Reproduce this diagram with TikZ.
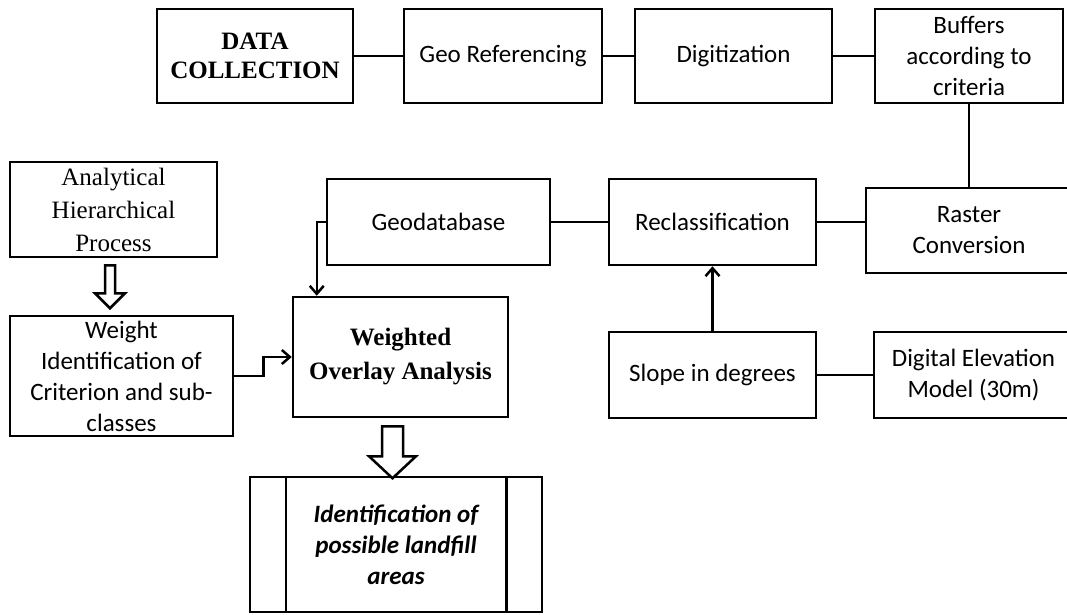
\documentclass[tikz,border=0pt]{standalone}
\usepackage{fontspec}
\setmainfont{Liberation Serif}
\newfontfamily\calib{Carlito}
\usetikzlibrary{calc,arrows.meta}
\tikzset{
  box/.style={draw, line width=2.5pt, rectangle, align=center, inner sep=0pt,
    font=\calib\fontsize{25}{31}\selectfont},
  tbox/.style={box, font=\fontsize{25}{33}\selectfont},
  tboxb/.style={box, font=\bfseries\fontsize{25}{29}\selectfont},
  ibox/.style={box, font=\calib\bfseries\itshape\fontsize{25}{31}\selectfont},
  conn/.style={line width=2.5pt},
  arr/.style={line width=2.5pt, -{Straight Barb[length=8pt,width=14pt,line width=2.5pt]}},
  hollow/.style={draw, line width=2.5pt, line join=miter, fill=white},
}
\begin{document}
\begin{tikzpicture}[x=1pt,y=-1pt]
\useasboundingbox (0,0) rectangle (1067,615);
% top row
\node[tboxb, minimum width=196pt, minimum height=94pt] (dc) at (255,56) {DATA\\COLLECTION};
\node[box, minimum width=198pt, minimum height=94pt] (geo) at (503,56) {Geo Referencing};
\node[box, minimum width=197pt, minimum height=94pt] (dig) at (733.5,56) {Digitization};
\node[box, minimum width=188pt, minimum height=94pt] (buf) at (969,56) {Buffers\\according to\\criteria};
% middle row
\node[box, minimum width=223pt, minimum height=86pt] (geodb) at (438.5,222) {Geodatabase};
\node[box, minimum width=207pt, minimum height=86pt] (recl) at (712.5,222) {Reclassification};
\node[box, minimum width=206pt, minimum height=85pt] (rast) at (969,230.5) {Raster\\Conversion};
% left column
\node[tbox, minimum width=207pt, minimum height=95pt] (ahp) at (113.5,209.5) {Analytical\\Hierarchical\\Process};
\node[box, minimum width=223pt, minimum height=120pt] (wi) at (121.5,376) {Weight\\Identification of\\Criterion and sub-\\classes};
\node[box, minimum width=215pt, minimum height=120pt, font=\bfseries\fontsize{25}{34}\selectfont] (wo) at (400.5,357) {Weighted\\Overlay Analysis};
% lower right
\node[box, minimum width=207pt, minimum height=86pt] (slope) at (712.5,375) {Slope in degrees};
\node[box, minimum width=199pt, minimum height=86pt] (dem) at (973.5,375) {Digital Elevation\\Model (30m)};
% result
\node[ibox, minimum width=292pt, minimum height=135pt] (id) at (396,544.5) {Identification of\\possible landfill\\areas};
\draw[conn] ($(id.north west)+(37,0)$) -- ($(id.south west)+(37,0)$);
\draw[conn] ($(id.north east)+(-37,0)$) -- ($(id.south east)+(-37,0)$);
% connectors
\draw[conn] (dc) -- (geo);
\draw[conn] (geo) -- (dig);
\draw[conn] (dig) -- (buf);
\draw[conn] (buf.south) -- (buf.south |- rast.north);
\draw[conn] (recl.east) -- (recl.east -| rast.west);
\draw[conn] (recl.west) -- (geodb.east);
\draw[conn] (slope.east) -- (dem.west);
\draw[arr] (slope.north) -- (recl.south);
\coordinate (woin) at ($(wo.north west)+(25,0)$);
\draw[arr] (geodb.west) -| (woin);
\coordinate (wibend) at ($(wi.east)+(29,0)$);
\draw[arr] (wi.east) -- (wibend) |- (wo.west);
% hollow arrows
\coordinate (a1) at ($(ahp.south)+(-3.5,7)$);
\draw[hollow] ($(a1)+(-5,0)$) -- ++(0,28) -- ++(-10,0) -- ($(a1)+(0,43)$) -- ($(a1)+(15,28)$) -- ++(-10,0) -- ($(a1)+(5,0)$) -- cycle;
\coordinate (a2) at ($(wo.south)+(-8,8)$);
\draw[hollow] ($(a2)+(-10.5,0)$) -- ++(0,30) -- ++(-13,0) -- ($(a2)+(0,52)$) -- ($(a2)+(23.5,30)$) -- ++(-13,0) -- ($(a2)+(10.5,0)$) -- cycle;
\end{tikzpicture}
\end{document}
